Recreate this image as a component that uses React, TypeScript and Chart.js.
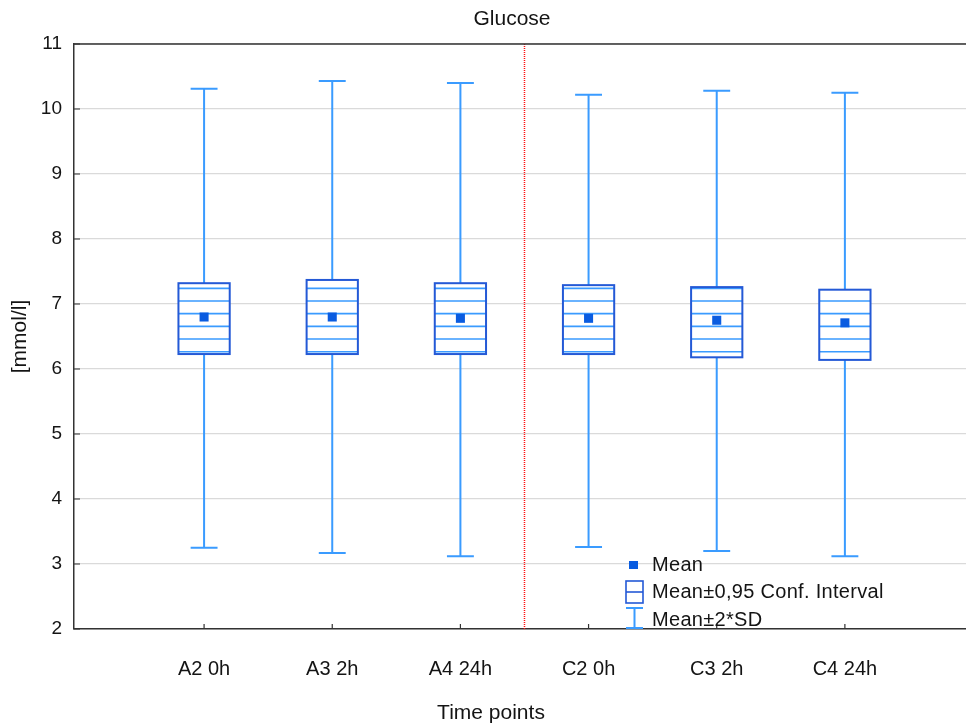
import React, { useEffect, useRef } from "react";
import { Chart, registerables } from "chart.js";

Chart.register(...registerables);

const chartTitle = "Glucose";
const xTitle = "Time points";
const yTitle = "[mmol/l]";
const categories = ["A2 0h", "A3 2h", "A4 24h", "C2 0h", "C3 2h", "C4 24h"];
const means = [6.8, 6.8, 6.78, 6.78, 6.75, 6.71];
const ciLow = [6.23, 6.23, 6.23, 6.23, 6.18, 6.14];
const ciHigh = [7.32, 7.37, 7.32, 7.29, 7.26, 7.22];
const sdLow = [3.25, 3.17, 3.12, 3.26, 3.2, 3.12];
const sdHigh = [10.31, 10.43, 10.4, 10.22, 10.28, 10.25];
const yTicks = [2, 3, 4, 5, 6, 7, 8, 9, 10, 11];
const dividerAt = 3.5;
const legendLabels = ["Mean", "Mean\u00b10,95 Conf. Interval", "Mean\u00b12*SD"];

const FONT = "'Liberation Sans', Arial, sans-serif";
const WHISKER = "#3a9bff";
const BOXEDGE = "#2459d6";
const HATCH = "#3a9bff";
const MEAN = "#0a5ce0";
const AXIS = "#333333";
const TEXT = "#141414";

const boxHalf = 0.2;
const capHalf = 0.105;

const drawPlugin = {
  id: "boxDraw",
  beforeDatasetsDraw(chart: any) {
    const { ctx, chartArea, scales } = chart;
    const xs = scales.x;
    const ys = scales.y;
    ctx.save();
    ctx.strokeStyle = "#ff1010";
    ctx.lineWidth = 1.5;
    ctx.setLineDash([1, 1]);
    const dx = xs.getPixelForValue(dividerAt);
    ctx.beginPath();
    ctx.moveTo(dx, chartArea.top);
    ctx.lineTo(dx, chartArea.bottom);
    ctx.stroke();
    ctx.setLineDash([]);

    categories.forEach((_, i) => {
      const xc = xs.getPixelForValue(i + 1);
      const yTop = ys.getPixelForValue(sdHigh[i]);
      const yBot = ys.getPixelForValue(sdLow[i]);
      const capW = xs.getPixelForValue(i + 1 + capHalf) - xc;
      ctx.strokeStyle = WHISKER;
      ctx.lineWidth = 2;
      ctx.beginPath();
      ctx.moveTo(xc, yTop);
      ctx.lineTo(xc, yBot);
      ctx.moveTo(xc - capW, yTop);
      ctx.lineTo(xc + capW, yTop);
      ctx.moveTo(xc - capW, yBot);
      ctx.lineTo(xc + capW, yBot);
      ctx.stroke();

      const bx0 = xs.getPixelForValue(i + 1 - boxHalf);
      const bx1 = xs.getPixelForValue(i + 1 + boxHalf);
      const by0 = ys.getPixelForValue(ciHigh[i]);
      const by1 = ys.getPixelForValue(ciLow[i]);
      ctx.fillStyle = "#ffffff";
      ctx.fillRect(bx0, by0, bx1 - bx0, by1 - by0);
      ctx.save();
      ctx.beginPath();
      ctx.rect(bx0, by0, bx1 - bx0, by1 - by0);
      ctx.clip();
      ctx.strokeStyle = HATCH;
      ctx.lineWidth = 1.6;
      const step = 12.67;
      let y = chartArea.top + 3.6;
      ctx.beginPath();
      while (y < chartArea.bottom) {
        if (y > by0 && y < by1) {
          ctx.moveTo(bx0, y);
          ctx.lineTo(bx1, y);
        }
        y += step;
      }
      ctx.stroke();
      ctx.restore();
      ctx.strokeStyle = BOXEDGE;
      ctx.lineWidth = 2;
      ctx.strokeRect(bx0, by0, bx1 - bx0, by1 - by0);
    });
    ctx.restore();
  },
  afterDraw(chart: any) {
    const { ctx, chartArea, scales } = chart;
    const xs = scales.x;
    const ys = scales.y;
    ctx.save();
    ctx.strokeStyle = AXIS;
    ctx.lineWidth = 1.5;
    ctx.beginPath();
    ctx.moveTo(chartArea.left, chartArea.top);
    ctx.lineTo(chart.width, chartArea.top);
    ctx.stroke();
    ctx.lineWidth = 1.2;
    ctx.beginPath();
    yTicks.forEach((v) => {
      const y = ys.getPixelForValue(v);
      ctx.moveTo(chartArea.left, y);
      ctx.lineTo(chartArea.left + 6, y);
    });
    categories.forEach((_, i) => {
      const x = xs.getPixelForValue(i + 1);
      ctx.moveTo(x, chartArea.bottom);
      ctx.lineTo(x, chartArea.bottom - 5);
    });
    ctx.stroke();

    const midX = (chartArea.left + chartArea.right) / 2;
    ctx.fillStyle = TEXT;
    ctx.font = `21px ${FONT}`;
    ctx.textAlign = "center";
    ctx.textBaseline = "middle";
    ctx.fillText(chartTitle, midX - 8, 19);
    ctx.fillText(xTitle, midX - 29, 713);

    const lx = chartArea.left + 552;
    const tx = chartArea.left + 578;
    const r1 = chartArea.bottom - 64;
    const r2 = chartArea.bottom - 37;
    const r3 = chartArea.bottom - 9;
    ctx.fillStyle = MEAN;
    ctx.fillRect(lx + 3, r1 - 4, 9, 8);
    ctx.strokeStyle = BOXEDGE;
    ctx.lineWidth = 1.6;
    ctx.strokeRect(lx, r2 - 11, 17, 22);
    ctx.beginPath();
    ctx.moveTo(lx, r2);
    ctx.lineTo(lx + 17, r2);
    ctx.stroke();
    ctx.strokeStyle = WHISKER;
    ctx.lineWidth = 2;
    ctx.beginPath();
    ctx.moveTo(lx, r3 - 12);
    ctx.lineTo(lx + 17, r3 - 12);
    ctx.moveTo(lx + 8.5, r3 - 12);
    ctx.lineTo(lx + 8.5, chartArea.bottom);
    ctx.moveTo(lx, chartArea.bottom - 1);
    ctx.lineTo(lx + 17, chartArea.bottom - 1);
    ctx.stroke();
    ctx.fillStyle = TEXT;
    ctx.textAlign = "left";
    ctx.font = `20px ${FONT}`;
    try {
      (ctx as any).letterSpacing = "0.3px";
    } catch (e) {}
    ctx.fillText(legendLabels[0], tx, r1);
    ctx.fillText(legendLabels[1], tx, r2);
    ctx.fillText(legendLabels[2], tx, r3);
    ctx.restore();
  },
};

export default function App() {
  const ref = useRef<HTMLCanvasElement | null>(null);
  useEffect(() => {
    document.body.style.margin = "0";
    const canvas = ref.current;
    if (!canvas) return;
    const chart = new Chart(canvas, {
      type: "scatter",
      data: {
        datasets: [
          {
            label: "Mean",
            data: means.map((m, i) => ({ x: i + 1, y: m })),
            pointStyle: "rect",
            pointRadius: 6.4,
            backgroundColor: MEAN,
            borderColor: MEAN,
            borderWidth: 0,
          },
        ],
      },
      options: {
        animation: false,
        responsive: false,
        maintainAspectRatio: false,
        events: [],
        layout: { autoPadding: false, padding: { top: 44, left: 0, right: 0, bottom: 0 } },
        plugins: {
          legend: { display: false },
          tooltip: { enabled: false },
          title: { display: false },
        },
        scales: {
          x: {
            type: "linear",
            min: -0.015,
            max: 6.945,
            afterBuildTicks: (s: any) => {
              s.ticks = categories.map((_, i) => ({ value: i + 1 }));
            },
            afterFit: (s: any) => {
              s.height = 96;
            },
            grid: { display: false },
            border: { display: true, color: AXIS, width: 1.5 },
            ticks: {
              autoSkip: false,
              maxRotation: 0,
              padding: 20,
              color: TEXT,
              font: { family: FONT, size: 20 },
              callback: (v: any) => categories[Number(v) - 1] ?? "",
            },
            title: { display: false },
          },
          y: {
            type: "linear",
            min: 2,
            max: 11,
            afterBuildTicks: (s: any) => {
              s.ticks = yTicks.map((v) => ({ value: v }));
            },
            afterFit: (s: any) => {
              s.width = 74;
            },
            grid: { color: "#dadada", lineWidth: 1.2, drawTicks: false },
            border: { display: true, color: AXIS, width: 1.5 },
            ticks: {
              padding: 12,
              color: TEXT,
              font: { family: FONT, size: 19 },
            },
            title: {
              display: true,
              text: yTitle,
              color: TEXT,
              font: { family: FONT, size: 21 },
              padding: { top: 8, bottom: 0 },
            },
          },
        },
      },
      plugins: [drawPlugin],
    } as any);
    return () => chart.destroy();
  }, []);
  return (
    <div style={{ width: 966, height: 725 }}>
      <canvas ref={ref} width={966} height={725} style={{ display: "block" }} />
    </div>
  );
}
